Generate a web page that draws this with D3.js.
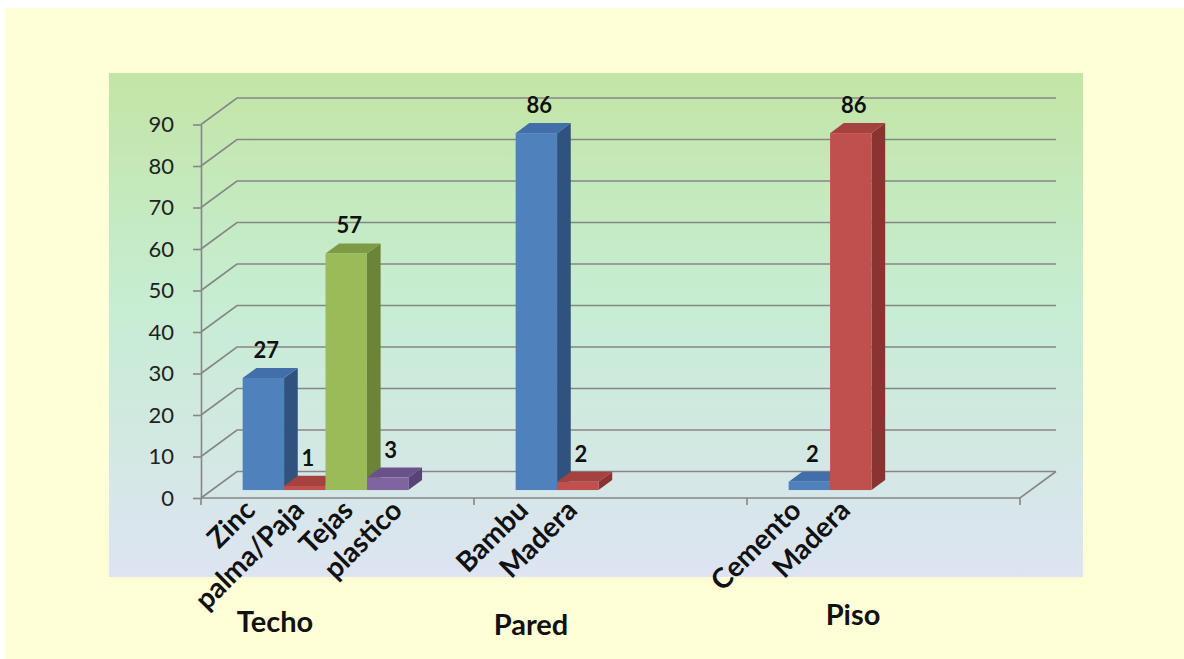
<!DOCTYPE html>
<html>
<head>
<meta charset="utf-8">
<script src="https://cdn.jsdelivr.net/npm/d3@7"></script>
<style>
  body { margin: 0; background: #fff; }
  text { font-family: Lato, "Open Sans", sans-serif; }
</style>
</head>
<body>
<svg id="chart" width="1184" height="659"></svg>
<script>
// data
const groups = ['Techo', 'Pared', 'Piso'];
const barGroup = ['Techo', 'Techo', 'Techo', 'Techo', 'Pared', 'Pared', 'Piso', 'Piso'];
const barLabel = ['Zinc', 'palma/Paja', 'Tejas', 'plastico', 'Bambu', 'Madera', 'Cemento', 'Madera'];
const barSlot = [0, 1, 2, 3, 0, 1, 0, 1];
const barValue = [27, 1, 57, 3, 86, 2, 2, 86];
const yTicks = [0, 10, 20, 30, 40, 50, 60, 70, 80, 90];

// colours per series slot: front, top, side
let colorArr = [
  {front: '#4F81BD', top: '#426FA9', side: '#30527F'},
  {front: '#C0504D', top: '#A5413E', side: '#8A3432'},
  {front: '#9BBB59', top: '#7E9A45', side: '#6C8438'},
  {front: '#8064A2', top: '#6A5189', side: '#584376'}
];

const svg = d3.select('#chart');

// page background
svg.append('rect').attr('x', 5).attr('y', 8).attr('width', 1179).attr('height', 651).style('fill', '#FFFFD7');

// plot area gradient
let defs = svg.append('defs');
let grad = defs.append('linearGradient').attr('id', 'plotbg').attr('x1', 0).attr('y1', 0).attr('x2', 0).attr('y2', 1);
grad.append('stop').attr('offset', '0%').attr('stop-color', '#C3E5A5');
grad.append('stop').attr('offset', '45%').attr('stop-color', '#C6EDD2');
grad.append('stop').attr('offset', '100%').attr('stop-color', '#DDE4F2');
svg.append('rect').attr('x', 109).attr('y', 73).attr('width', 974).attr('height', 504).style('fill', 'url(#plotbg)');

// scales
let x0 = d3.scaleBand().domain(groups).range([201, 1020]).padding(0);
let bw = x0.bandwidth();
let xs = d3.scaleBand().domain([0, 1, 2, 3]).range([bw * 0.113, bw * 0.72]).padding(0);
// label slots are a little wider than the bars in the original
let xl = d3.scaleBand().domain([0, 1, 2, 3]).range([bw * 0.1, bw * 0.818]).padding(0);
let y = d3.scaleLinear().domain([0, 90]).range([498, 124.5]);

// 3d depth of the floor and bars
const DX = 36, DY = -26.5;
const f0 = 0.3, f1 = 0.68;
const gridColor = '#868686';

// back wall gridlines with the diagonal to the axis
let grid = svg.append('g');
yTicks.forEach(t => {
  let p = d3.path();
  p.moveTo(x0.range()[0], y(t));
  p.lineTo(x0.range()[0] + DX, y(t) + DY);
  p.lineTo(x0.range()[1] + DX, y(t) + DY);
  grid.append('path').attr('d', p.toString())
    .style('fill', 'none').style('stroke', gridColor).style('stroke-width', '1.6px');
});

// floor front edge
let fl = d3.path();
fl.moveTo(x0.range()[0], y(0));
fl.lineTo(x0.range()[1], y(0));
fl.lineTo(x0.range()[1] + DX, y(0) + DY);
svg.append('path').attr('d', fl.toString())
  .style('fill', 'none').style('stroke', gridColor).style('stroke-width', '1.6px');

// category ticks at group boundaries
let bounds = groups.map(g => x0(g)).concat([x0.range()[1]]);
svg.selectAll('line.xtick').data(bounds).enter().append('line')
  .attr('class', 'xtick')
  .attr('x1', d => d).attr('x2', d => d)
  .attr('y1', y(0)).attr('y2', y(0) + 7)
  .style('stroke', gridColor).style('stroke-width', '1.6px');

// y axis
let yAxis = svg.append('g').attr('transform', 'translate(' + x0.range()[0] + ',0)')
  .call(d3.axisLeft(y).tickValues(yTicks).tickSize(8).tickSizeOuter(0).tickPadding(19));
yAxis.select('.domain').style('stroke', gridColor).style('stroke-width', '1.6px');
yAxis.selectAll('.tick line').style('stroke', gridColor).style('stroke-width', '1.6px');
yAxis.selectAll('.tick text')
  .style('font-family', 'Lato, sans-serif').style('font-size', '22px').style('fill', '#222');

// bars, left to right so the next front face covers the previous side
let bars = barValue.map((v, i) => {
  let xa = x0(barGroup[i]) + xs(barSlot[i]) + f0 * DX;
  let xb = xa + xs.bandwidth();
  let top = y(v) + f0 * DY;
  let bot = y(0) + f0 * DY;
  return {i, v, xa, xb, top, bot, c: colorArr[barSlot[i]]};
});
let ddx = (f1 - f0) * DX, ddy = (f1 - f0) * DY;
let bg = svg.append('g');
bars.forEach(b => {
  let g = bg.append('g');
  // side
  g.append('path')
    .attr('d', `M${b.xb},${b.top}L${b.xb + ddx},${b.top + ddy}L${b.xb + ddx},${b.bot + ddy}L${b.xb},${b.bot}Z`)
    .style('fill', b.c.side);
  // top
  g.append('path')
    .attr('d', `M${b.xa},${b.top}L${b.xa + ddx},${b.top + ddy}L${b.xb + ddx},${b.top + ddy}L${b.xb},${b.top}Z`)
    .style('fill', b.c.top);
  // front
  g.append('rect')
    .attr('x', b.xa).attr('y', b.top)
    .attr('width', b.xb - b.xa).attr('height', b.bot - b.top)
    .style('fill', b.c.front);
});

// value labels
svg.selectAll('text.val').data(bars).enter().append('text')
  .attr('class', 'val')
  .attr('x', d => (d.xa + d.xb) / 2 + 3)
  .attr('y', d => d.top + ddy - 10)
  .attr('text-anchor', 'middle')
  .style('font-size', '22px').style('font-weight', 'bold').style('fill', '#111')
  .text(d => d.v);

// rotated category labels
svg.selectAll('text.cat').data(bars).enter().append('text')
  .attr('class', 'cat')
  .attr('text-anchor', 'end')
  .attr('transform', d => {
    let cx = x0(barGroup[d.i]) + xl(barSlot[d.i]) + xl.bandwidth() / 2 + 4;
    return 'translate(' + cx + ',' + 512 + ') rotate(-45)';
  })
  .style('font-size', '28px').style('font-weight', 'bold').style('fill', '#111')
  .text(d => barLabel[d.i]);

// group titles (placed like the text boxes of the original)
const titleDx = [74, 57, 106];
const titleY = [632, 635, 625];
svg.selectAll('text.grp').data(groups).enter().append('text')
  .attr('class', 'grp')
  .attr('x', (d, i) => x0(d) + titleDx[i])
  .attr('y', (d, i) => titleY[i])
  .attr('text-anchor', 'middle')
  .style('font-size', '29px').style('font-weight', 'bold').style('fill', '#111')
  .text(d => d);
</script>
</body>
</html>
